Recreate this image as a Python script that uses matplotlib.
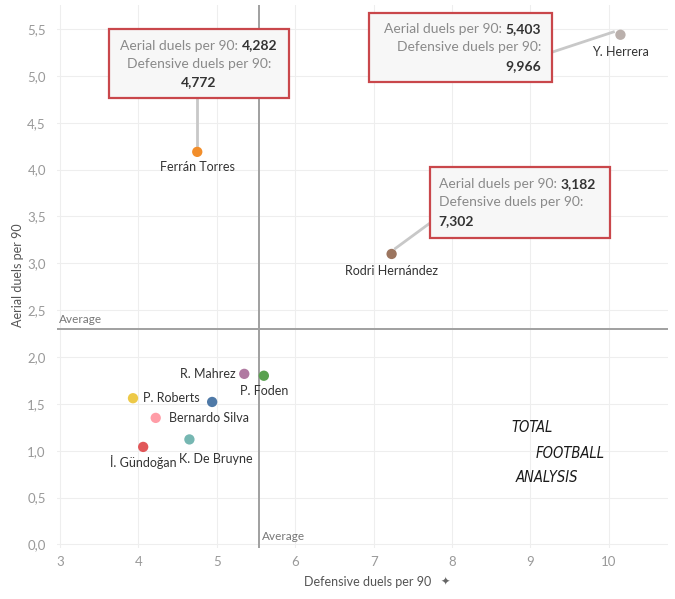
import matplotlib.pyplot as plt
from matplotlib.patches import Rectangle

# ---- DATA ----
players = ["Y. Herrera", "Ferrán Torres", "Rodri Hernández", "R. Mahrez", "P. Foden",
           "P. Roberts", "", "Bernardo Silva", "K. De Bruyne", "İ. Gündoğan"]
defensive = [10.15, 4.75, 7.23, 5.35, 5.60, 3.93, 4.94, 4.22, 4.65, 4.06]
aerial = [5.44, 4.19, 3.10, 1.82, 1.80, 1.56, 1.52, 1.35, 1.12, 1.04]
colors = ["#bab0ac", "#f28e2b", "#9c755f", "#b07aa1", "#59a14f",
          "#edc948", "#4e79a7", "#ff9da7", "#76b7b2", "#e15759"]
# label placement: (dx, dy) in points, ha
label_pos = [(0, -12.5, "center"), (0, -11, "center"), (0, -12, "center"),
             (-6, 0, "right"), (0, -11, "center"), (7, 0, "left"), None,
             (9.5, 0, "left"), (19, -14, "center"), (0, -11, "center")]

avg_def = 5.54
avg_aer = 2.30

yticks = [0, 0.5, 1, 1.5, 2, 2.5, 3, 3.5, 4, 4.5, 5, 5.5]
xticks = [3, 4, 5, 6, 7, 8, 9, 10]

# tooltips: player index, aerial text, defensive text, box (x0, x1, y0, y1), text anchor x, alignment
tips = [
    (1, "4,282", "4,772", (3.625, 5.92, 4.76, 5.50), 4.77, "center"),
    (0, "5,403", "9,966", (6.94, 9.28, 4.94, 5.67), 9.14, "right"),
    (2, "3,182", "7,302", (7.72, 10.02, 3.27, 4.03), 7.83, "left"),
]

# ---- STYLE ----
plt.rcParams.update({
    "font.family": ["Lato", "DejaVu Sans"],
    "font.size": 9.5,
})

fig = plt.figure(figsize=(6.75, 5.99), dpi=100)
ax = fig.add_axes([0.0844, 0.085, 0.9056, 0.907])

ax.set_xlim(2.96, 10.76)
ax.set_ylim(-0.04, 5.76)
ax.set_xticks(xticks)
ax.set_yticks(yticks)
ax.set_xticklabels([str(t) for t in xticks])
ax.set_yticklabels([f"{t:.1f}".replace(".", ",") for t in yticks])
ax.tick_params(length=0, colors="#999999", labelsize=9.5)
ax.tick_params(axis="x", pad=6)
ax.tick_params(axis="y", pad=8)
ax.grid(True, color="#eeeeee", linewidth=0.8)
ax.set_axisbelow(True)
for s in ax.spines.values():
    s.set_visible(False)

ax.axvline(avg_def, color="#a0a0a0", linewidth=1.4, zorder=1)
ax.axhline(avg_aer, color="#a0a0a0", linewidth=1.4, zorder=1)
ax.text(2.99, avg_aer + 0.04, "Average", color="#777777", fontsize=8.5, va="bottom")
ax.text(avg_def + 0.04, 0.03, "Average", color="#777777", fontsize=8.5, va="bottom")

ax.scatter(defensive, aerial, s=55, c=colors, zorder=3, edgecolors="none")

for i, name in enumerate(players):
    if label_pos[i] is None:
        continue
    dx, dy, ha = label_pos[i]
    ax.annotate(name, (defensive[i], aerial[i]), xytext=(dx, dy), textcoords="offset points",
                ha=ha, va="center", color="#333333", fontsize=9)

# ---- TOOLTIP BOXES ----
fig.canvas.draw()
renderer = fig.canvas.get_renderer()
GRAY = "#8a8a8a"
DARK = "#333333"
FS = 10


def width_data(t):
    bb = t.get_window_extent(renderer)
    inv = ax.transData.inverted()
    (x0, _), (x1, _) = inv.transform([(bb.x0, bb.y0), (bb.x1, bb.y0)])
    return x1 - x0


for idx, aval, dval, (x0, x1, y0, y1), tx, ha in tips:
    px, py = defensive[idx], aerial[idx]
    ax.add_patch(Rectangle((x0, y0), x1 - x0, y1 - y0, fc="#f7f7f7", ec="#c9474b",
                           lw=1.6, zorder=4))
    # connector
    if ha == "center":
        ax.plot([px, px], [y0, py + 0.07], color="#c8c8c8", lw=2, zorder=2)
    elif ha == "right":
        ax.plot([x1, px - 0.09], [(y0 + y1) / 2 - 0.05, py + 0.03], color="#c8c8c8", lw=2, zorder=2)
    else:
        ax.plot([x0, px + 0.05], [y0 + 0.16, py + 0.06], color="#c8c8c8", lw=2, zorder=2)

    ym = (y0 + y1) / 2
    lines_y = [ym + 0.195, ym, ym - 0.195]
    g = ax.text(0, lines_y[0], "Aerial duels per 90: ", color=GRAY, fontsize=FS,
                va="center", ha="left", zorder=5)
    b = ax.text(0, lines_y[0], aval, color=DARK, fontsize=FS, fontweight="bold",
                va="center", ha="left", zorder=5)
    wg, wb = width_data(g), width_data(b)
    if ha == "center":
        start = tx - (wg + wb) / 2
    elif ha == "right":
        start = tx - (wg + wb)
    else:
        start = tx
    g.set_x(start)
    b.set_x(start + wg)
    ax.text(tx, lines_y[1], "Defensive duels per 90:", color=GRAY, fontsize=FS,
            va="center", ha=ha, zorder=5)
    ax.text(tx, lines_y[2], dval, color=DARK, fontsize=FS, fontweight="bold",
            va="center", ha=ha, zorder=5)

# ---- LOGO ----
logo_kw = dict(color="#1a1a1a", fontsize=10.5, family="DejaVu Sans", fontstretch="condensed",
               style="italic", fontweight="light")
fig.text(0.758, 0.278, "TOTAL", **logo_kw)
fig.text(0.793, 0.236, "FOOTBALL", **logo_kw)
fig.text(0.764, 0.195, "ANALYSIS", **logo_kw)

# ---- AXIS TITLES ----
fig.text(368 / 675, 1 - 582 / 599, "Defensive duels per 90", ha="center", va="center",
         color="#555555", fontsize=9)
fig.text(445 / 675, 1 - 582 / 599, "✦", ha="center", va="center", color="#666666",
         fontsize=8, family="DejaVu Sans")
fig.text(18 / 675, 1 - 275 / 599, "Aerial duels per 90", ha="center", va="center",
         rotation=90, color="#555555", fontsize=9)

fig.savefig("out.png", dpi=100)
